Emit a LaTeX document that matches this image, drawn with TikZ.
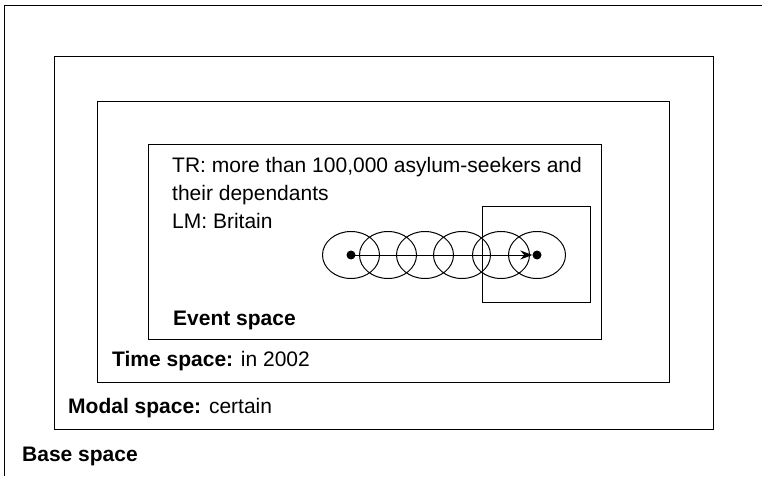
\documentclass[tikz,border=0pt]{standalone}
\usepackage{fontspec}
\setmainfont{Liberation Sans}
\usetikzlibrary{arrows.meta,shapes.geometric}
\begin{document}
\begin{tikzpicture}[x=1pt,y=-1pt,
  frame/.style={draw=black,line width=1pt},
  lbl/.style={anchor=base west,inner sep=0pt,font=\fontsize{21}{28}\selectfont},
  spot/.style={ellipse,draw=black,line width=1pt,minimum width=57pt,minimum height=47pt,inner sep=0pt},
  dot/.style={circle,fill=black,minimum size=9pt,inner sep=0pt}]
\useasboundingbox (0,0) rectangle (762,476);
% nested mental spaces
\draw[frame] (4,476) -- (4,6) -- (762,6);
\node[frame,inner sep=0pt,minimum width=659pt,minimum height=373pt,anchor=north west] (modal) at (54,56) {};
\node[frame,inner sep=0pt,minimum width=572pt,minimum height=281pt,anchor=north west] (time) at (97,101) {};
\node[frame,inner sep=0pt,minimum width=453pt,minimum height=195pt,anchor=north west] (event) at (148,144) {};
\node[frame,inner sep=0pt,minimum width=108pt,minimum height=96pt,anchor=north west] (sq) at (482,206) {};
% successive positions of the moving trajector
\foreach \i/\x in {1/351,2/388,3/425,4/462,5/501,6/537}
  \node[spot] (c\i) at (\x,255) {};
\node[dot] (start) at (c1.center) {};
\node[dot] (end) at (c6.center) {};
\draw[line width=1pt,-{Stealth[length=12pt,width=9pt]}] (start.center) -- (end.west);
% labels
\node[lbl] (tr) at (172,172) {TR: more than 100,000 asylum-seekers and};
\node[lbl] (dep) at (172,200) {their dependants};
\node[lbl] (lm) at (172,228) {LM: Britain};
\node[lbl] (ev) at (173,325) {\bfseries Event space};
\node[lbl] (ts) at (112,366) {\textbf{Time space:} in 2002};
\node[lbl] (ms) at (68,413) {\textbf{Modal space:} certain};
\node[lbl] (bs) at (22,461) {\bfseries Base space};
\end{tikzpicture}
\end{document}
